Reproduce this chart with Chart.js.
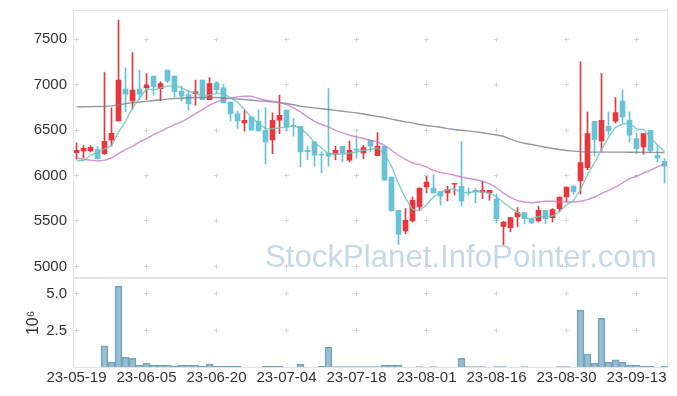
<!DOCTYPE html>
<html><head><meta charset="utf-8">
<script src="https://cdn.jsdelivr.net/npm/chart.js@4.4.1/dist/chart.umd.min.js"></script>
<style>html,body{margin:0;padding:0;background:#fff}#wrap{width:677px;height:396px;position:relative}</style>
</head><body><div id="wrap"><canvas id="c" width="677" height="396"></canvas></div>
<script>
const dates = ['23-05-19','23-05-22','23-05-23','23-05-24','23-05-25','23-05-26','23-05-30','23-05-31','23-06-01','23-06-02',
'23-06-05','23-06-07','23-06-08','23-06-09','23-06-12','23-06-13','23-06-14','23-06-15','23-06-16','23-06-19',
'23-06-20','23-06-21','23-06-22','23-06-23','23-06-26','23-06-27','23-06-28','23-06-29','23-06-30','23-07-03',
'23-07-04','23-07-05','23-07-06','23-07-07','23-07-10','23-07-11','23-07-12','23-07-13','23-07-14','23-07-17',
'23-07-18','23-07-19','23-07-20','23-07-21','23-07-24','23-07-25','23-07-26','23-07-27','23-07-28','23-07-31',
'23-08-01','23-08-02','23-08-03','23-08-04','23-08-07','23-08-08','23-08-09','23-08-10','23-08-11','23-08-14',
'23-08-16','23-08-17','23-08-18','23-08-21','23-08-22','23-08-23','23-08-24','23-08-25','23-08-28','23-08-29',
'23-08-30','23-08-31','23-09-01','23-09-04','23-09-05','23-09-06','23-09-07','23-09-08','23-09-11','23-09-12',
'23-09-13','23-09-14','23-09-15','23-09-18','23-09-19'];
const tickDates = ['23-05-19','23-06-05','23-06-20','23-07-04','23-07-18','23-08-01','23-08-16','23-08-30','23-09-13'];

const openP = [6250,6270,6270,6285,6241,6387,6600,6949,6820,6949, 6963,7092,6956,7158,7092,6927,6890,6899,7048,6835,
7018,6963,6806,6677,6578,6644,6596,6497,6391,6607, 6718,6552,6541,6277,6369,6233,6247,6233,6321,6167,
6290,6247,6387,6219,6321,5983,5617,5389,5499,5653, 5873,5862,5826,5807,5903,5881,5818,5837,5818,5807,
5740,5440,5426,5543,5591,5517,5499,5617,5536,5635, 5763,5881,5939,6087,6596,6380,6541,6596,6817,6607,
6406,6314,6497,6222,6156];
const highP = [6360,6330,6330,6320,7133,6743,7708,7183,7353,7158, 7121,7092,7029,7158,7092,6985,6930,7048,7048,7077,
7033,7000,6806,6710,6718,6644,6725,6747,6688,6883, 6718,6629,6541,6321,6369,6260,6957,6321,6321,6380,
6440,6332,6390,6472,6321,5983,5617,5635,5763,5862, 5991,6010,5826,5881,5914,6372,5862,5855,5939,5837,
5795,5492,5536,5646,5591,5517,5661,5617,5635,5763, 5873,5892,7250,6700,6596,7121,6699,6857,6938,6699,
6461,6461,6497,6332,6186];
const lowP = [6180,6190,6260,6178,6230,6321,6600,6699,6729,6835, 6835,6883,6824,7020,6861,6817,6718,6773,6835,6835,
6901,6798,6600,6516,6486,6497,6490,6131,6241,6461, 6497,6431,6093,6175,6101,6027,6101,6175,6148,6148,
6190,6186,6258,6219,5947,5609,5242,5360,5488,5617, 5807,5807,5672,5719,5782,5661,5782,5700,5745,5727,
5475,5240,5378,5440,5470,5470,5488,5470,5488,5598, 5708,5793,5793,6065,6211,6258,6442,6578,6578,6369,
6241,6233,6247,6148,5917];
const closeP = [6277,6299,6310,6186,6376,6464,7048,6894,6938,6894, 6993,6978,7011,7040,6921,6872,6791,6921,6835,7011,
6945,6798,6677,6600,6607,6497,6490,6369,6607,6662, 6534,6541,6258,6262,6222,6225,6211,6277,6247,6277,
6277,6307,6321,6321,5947,5609,5352,5506,5727,5862, 5928,5807,5771,5844,5914,5719,5807,5822,5837,5837,
5525,5488,5536,5591,5525,5477,5617,5525,5624,5763, 5873,5818,6142,6461,6395,6607,6490,6692,6644,6442,
6296,6461,6269,6192,6101];

const ma5 = [6160,6165,6220,6255,6290,6327,6477,6594,6744,6848, 6953,6939,6963,6983,6989,6964,6927,6909,6868,6886,
6901,6902,6853,6806,6725,6636,6574,6513,6514,6525, 6532,6543,6520,6451,6363,6302,6236,6239,6236,6247,
6258,6277,6286,6301,6235,6101,5910,5747,5628,5611, 5675,5766,5819,5842,5853,5811,5811,5821,5820,5804,
5766,5702,5645,5595,5533,5523,5549,5547,5554,5601, 5680,5721,5844,6011,6138,6285,6419,6529,6566,6575,
6513,6507,6422,6332,6264];
const ma20 = [6192,6178,6167,6160,6167,6192,6241,6285,6321,6369, 6406,6450,6486,6523,6560,6589,6630,6681,6725,6773,
6809,6835,6853,6864,6872,6872,6846,6828,6817,6802, 6780,6743,6699,6644,6596,6563,6534,6497,6468,6442,
6424,6406,6387,6369,6332,6277,6222,6178,6137,6120, 6094,6057,6032,6020,6002,5983,5966,5955,5936,5911,
5865,5806,5758,5723,5708,5700,5708,5716,5716,5710, 5708,5708,5716,5734,5763,5800,5837,5873,5917,5966,
5991,6027,6057,6094,6131];
const ma60 = [6755,6756,6757,6758,6760,6765,6775,6790,6800,6808, 6815,6825,6833,6840,6846,6850,6855,6857,6858,6858,
6857,6852,6846,6840,6835,6828,6820,6815,6809,6800, 6791,6778,6762,6752,6743,6734,6725,6716,6706,6697,
6688,6676,6663,6650,6637,6620,6605,6590,6578,6560, 6550,6540,6530,6515,6505,6498,6490,6480,6470,6458,
6445,6431,6400,6372,6355,6340,6325,6310,6297,6285, 6275,6268,6262,6258,6257,6257,6257,6257,6257,6256,
6256,6255,6254,6253,6252];

// volume in millions (axis offset 10^6)
const volume = [0,0,0,0,1.48,0.39,5.47,0.72,0.65,0.2, 0.32,0.2,0.2,0.2,0.14,0.2,0.2,0.2,0.12,0.27,
0.12,0.12,0.12,0.12,0,0,0,0.12,0.12,0.12, 0,0,0.25,0,0,0.12,1.39,0.1,0.1,0.1,
0.1,0.1,0.1,0.1,0.2,0.2,0.2,0,0,0.1, 0,0.1,0,0,0,0.65,0.1,0.1,0.1,0,
0.1,0.1,0,0,0.1,0,0,0,0,0.1, 0.1,0,3.88,0.94,0.32,3.33,0.39,0.54,0.39,0.2,
0.2,0.12,0.12,0,0.12];

const priceTicks = [5000,5500,6000,6500,7000,7500];
const volumeTicks = [2.5,5.0];
const WATERMARK = 'StockPlanet.InfoPointer.com';

const FONT = "'Liberation Sans',sans-serif";
const UP = '#e8363c', DOWN = '#68c2d8';
const isUp = i => closeP[i] >= openP[i];

const decor = {
  id: 'decor',
  beforeDatasetsDraw(chart) {
    const {ctx, scales} = chart;
    const x = scales.x, y = scales.y, yv = scales.yv;
    ctx.save();
    ctx.font = '30px ' + FONT;
    const w = ctx.measureText(WATERMARK).width;
    ctx.font = (30 * 392 / w).toFixed(2) + 'px ' + FONT;
    ctx.fillStyle = 'rgb(199,217,228)';
    ctx.textBaseline = 'alphabetic';
    ctx.textAlign = 'left';
    ctx.fillText(WATERMARK, 265, 267);
    const xs = [];
    dates.forEach((d, i) => { if (tickDates.includes(d)) xs.push(x.getPixelForValue(i)); });
    const ys = priceTicks.map(v => y.getPixelForValue(v)).concat(volumeTicks.map(v => yv.getPixelForValue(v)));
    ctx.strokeStyle = '#d6d6d6';
    ctx.lineWidth = 1;
    ctx.beginPath();
    for (const px of xs) for (const py of ys) {
      const X = Math.floor(px) + 0.5, Y = Math.floor(py) + 0.5;
      ctx.moveTo(X - 2.5, Y); ctx.lineTo(X + 2.5, Y);
      ctx.moveTo(X, Y - 2.5); ctx.lineTo(X, Y + 2.5);
    }
    ctx.stroke();
    ctx.restore();
  },
  afterDraw(chart) {
    const {ctx, chartArea, scales} = chart;
    ctx.save();
    ctx.strokeStyle = '#e3e3e3';
    ctx.lineWidth = 1;
    for (const s of [scales.y, scales.yv]) {
      ctx.strokeRect(Math.floor(chartArea.left) + 0.5, Math.floor(s.top) + 0.5,
        Math.round(chartArea.right - chartArea.left) - 1, Math.round(s.bottom - s.top));
    }
    ctx.restore();
  }
};

const tickFont = {family: FONT, size: 15};
const fitY = s => { s.width = 50; s.paddingTop = 0; s.paddingBottom = 0; };
new Chart(document.getElementById('c'), {
  type: 'bar',
  data: {
    labels: dates,
    datasets: [
      {type: 'line', label: 'MA5', data: ma5, yAxisID: 'y', borderColor: 'rgba(110,196,182,0.85)', borderWidth: 1.4, pointRadius: 0, tension: 0, order: 0},
      {type: 'line', label: 'MA20', data: ma20, yAxisID: 'y', borderColor: 'rgba(198,120,198,0.8)', borderWidth: 1.4, pointRadius: 0, tension: 0, order: 0},
      {type: 'line', label: 'MA60', data: ma60, yAxisID: 'y', borderColor: 'rgba(125,125,125,0.8)', borderWidth: 1.4, pointRadius: 0, tension: 0, order: 0},
      {label: 'body', data: dates.map((d, i) => [openP[i], closeP[i]]), yAxisID: 'y', grouped: false, barThickness: 5,
        backgroundColor: c => isUp(c.dataIndex) ? UP : DOWN, borderWidth: 0, order: 1},
      {label: 'wick', data: dates.map((d, i) => [lowP[i], highP[i]]), yAxisID: 'y', grouped: false, barThickness: 1,
        backgroundColor: c => isUp(c.dataIndex) ? UP : DOWN, borderWidth: 0, order: 2},
      {label: 'volume', data: volume, yAxisID: 'yv', grouped: false, barPercentage: 1, categoryPercentage: 1,
        backgroundColor: 'rgba(120,168,193,0.75)', borderColor: 'rgba(95,148,175,0.85)', borderWidth: 1, borderSkipped: 'bottom', order: 3}
    ]
  },
  options: {
    responsive: false,
    devicePixelRatio: 1,
    animation: false,
    events: [],
    layout: {padding: {left: 23, right: 9, top: 10, bottom: 0}},
    plugins: {legend: {display: false}, tooltip: {enabled: false}},
    scales: {
      x: {
        type: 'category', offset: true,
        grid: {display: false, drawTicks: false}, border: {display: false},
        ticks: {autoSkip: false, maxRotation: 0, minRotation: 0, padding: 1, font: tickFont, color: '#333',
          callback: (v, i) => tickDates.includes(dates[i]) ? dates[i] : ''},
        afterFit: s => { s.height = 28; }
      },
      y: {
        type: 'linear', position: 'left', stack: 'panel', stackWeight: 267, weight: 2,
        min: 4875, max: 7820,
        grid: {display: false, drawTicks: false}, border: {display: false},
        afterBuildTicks: s => { s.ticks = priceTicks.map(v => ({value: v})); },
        ticks: {padding: 6, font: tickFont, color: '#333', callback: v => String(v)},
        afterFit: fitY
      },
      yv: {
        type: 'linear', position: 'left', stack: 'panel', stackWeight: 90, weight: 1,
        min: 0, max: 6.05,
        grid: {display: false, drawTicks: false}, border: {display: false},
        afterBuildTicks: s => { s.ticks = volumeTicks.map(v => ({value: v})); },
        ticks: {padding: 6, font: tickFont, color: '#333', callback: v => Number(v).toFixed(1)},
        title: {display: true, text: '10⁶', font: {family: FONT, size: 16}, color: '#333', padding: {top: 1, bottom: 0}},
        afterFit: fitY
      }
    }
  },
  plugins: [decor]
});
</script>
</body></html>
